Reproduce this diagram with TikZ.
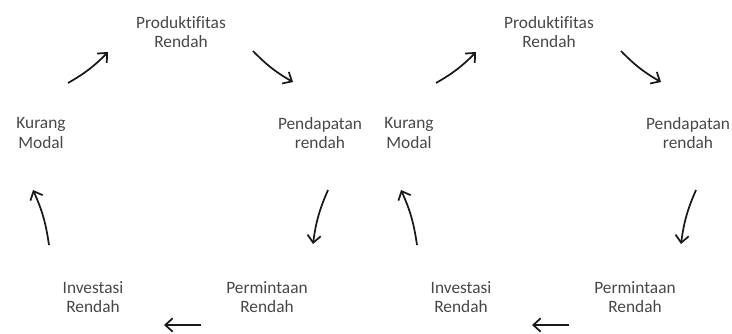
\documentclass[tikz,border=0pt]{standalone}
\usepackage{fontspec}
\setmainfont{Carlito}[Ligatures=CommonOff]
\usetikzlibrary{arrows.meta}
\usetikzlibrary{calc}

\begin{document}
\begin{tikzpicture}[
      x=0.75pt, y=0.75pt,
      txt/.style={align=center,text=black!72,font=\fontsize{13}{14.3}\selectfont},
      cyc/.style={line width=1.3pt,black!90,-{Straight Barb[length=5.5pt,width=10pt]}},
    ]
    \useasboundingbox (0,0) rectangle (732,333);
    % Left cycle.
    \node[txt] (L_PR) at (181,301) {Produktifitas\\Rendah};
    \node[txt] (L_KM) at (41,200) {Kurang\\Modal};
    \node[txt] (L_PD) at (320,200) {Pendapatan\\rendah};
    \node[txt] (L_IR) at (93,36) {Investasi\\Rendah};
    \node[txt] (L_PM) at (267,36) {Permintaan\\Rendah};
    \coordinate (L1_a) at ([shift={+(27,50)}] L_KM);
    \coordinate (L1_b) at ([shift={+(-73,-20)}] L_PR);
    \coordinate (L2_a) at ([shift={+(72,-19)}] L_PR);
    \coordinate (L2_b) at ([shift={+(-27,51)}] L_PD);
    \coordinate (L3_a) at ([shift={+(8,-57)}] L_PD);
    \coordinate (L3_b) at ([shift={+(46,53)}] L_PM);
    \coordinate (L4_a) at ([shift={+(-66,-28)}] L_PM);
    \coordinate (L4_b) at ([shift={+(71,-28)}] L_IR);
    \coordinate (L5_a) at ([shift={+(-44,52)}] L_IR);
    \coordinate (L5_b) at ([shift={+(-8,-57)}] L_KM);
    \draw[cyc] (L1_a) to[bend right=8] (L1_b);
    \draw[cyc] (L2_a) to[bend right=8] (L2_b);
    \draw[cyc] (L3_a) to[bend right=8] (L3_b);
    \draw[cyc] (L4_a) -- (L4_b);
    \draw[cyc] (L5_a) to[bend right=8] (L5_b);

    % Right cycle.
    \node[txt] (R_PR) at (549,301) {Produktifitas\\Rendah};
    \node[txt] (R_KM) at (409,200) {Kurang\\Modal};
    \node[txt] (R_PD) at (688,200) {Pendapatan\\rendah};
    \node[txt] (R_IR) at (461,36) {Investasi\\Rendah};
    \node[txt] (R_PM) at (635,36) {Permintaan\\Rendah};
    \coordinate (R1_a) at ([shift={+(27,50)}] R_KM);
    \coordinate (R1_b) at ([shift={+(-73,-20)}] R_PR);
    \coordinate (R2_a) at ([shift={+(72,-19)}] R_PR);
    \coordinate (R2_b) at ([shift={+(-27,51)}] R_PD);
    \coordinate (R3_a) at ([shift={+(8,-57)}] R_PD);
    \coordinate (R3_b) at ([shift={+(46,53)}] R_PM);
    \coordinate (R4_a) at ([shift={+(-66,-28)}] R_PM);
    \coordinate (R4_b) at ([shift={+(71,-28)}] R_IR);
    \coordinate (R5_a) at ([shift={+(-44,52)}] R_IR);
    \coordinate (R5_b) at ([shift={+(-8,-57)}] R_KM);
    \draw[cyc] (R1_a) to[bend right=8] (R1_b);
    \draw[cyc] (R2_a) to[bend right=8] (R2_b);
    \draw[cyc] (R3_a) to[bend right=8] (R3_b);
    \draw[cyc] (R4_a) -- (R4_b);
    \draw[cyc] (R5_a) to[bend right=8] (R5_b);
\end{tikzpicture}
\end{document}
